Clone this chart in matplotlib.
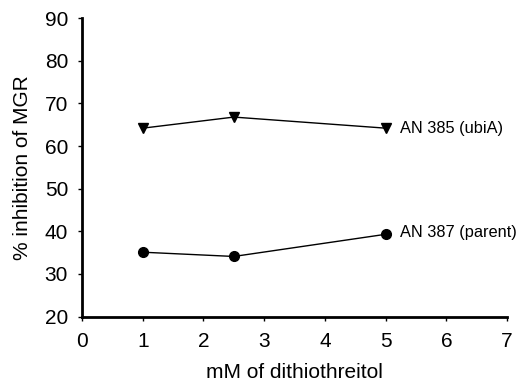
import matplotlib
matplotlib.use("Agg")
import matplotlib.pyplot as plt

plt.rcParams['font.family'] = ['Liberation Sans', 'DejaVu Sans']

# Data
dtt_mm = [1, 2.5, 5]
an385_ubiA = [64.2, 66.8, 64.2]
an387_parent = [35.1, 34.1, 39.3]

fig = plt.figure(figsize=(5.19, 3.87), dpi=100)
ax = fig.add_axes([0.158, 0.182, 0.819, 0.771])

ax.plot(dtt_mm, an385_ubiA, color='black', linewidth=1.0,
        marker='v', markersize=7)
ax.plot(dtt_mm, an387_parent, color='black', linewidth=1.0,
        marker='o', markersize=7)

ax.text(5.23, an385_ubiA[-1], 'AN 385 (ubiA)', fontsize=11.8, va='center')
ax.text(5.23, an387_parent[-1] + 0.4, 'AN 387 (parent)', fontsize=11.8, va='center')

ax.set_xlim(0, 7)
ax.set_ylim(20, 90)
ax.set_xticks(range(0, 8))
ax.set_yticks(range(20, 91, 10))
ax.tick_params(labelsize=15, direction='out', length=3, width=1)
ax.tick_params(axis='y', pad=7)
ax.tick_params(axis='x', pad=8)

for side in ['top', 'right']:
    ax.spines[side].set_visible(False)
ax.spines['left'].set_linewidth(2)
ax.spines['bottom'].set_linewidth(2)

ax.set_xlabel('mM of dithiothreitol', fontsize=15, labelpad=9)
ax.set_ylabel('% inhibition of MGR', fontsize=15, labelpad=9)

fig.savefig('out.png', dpi=100)
